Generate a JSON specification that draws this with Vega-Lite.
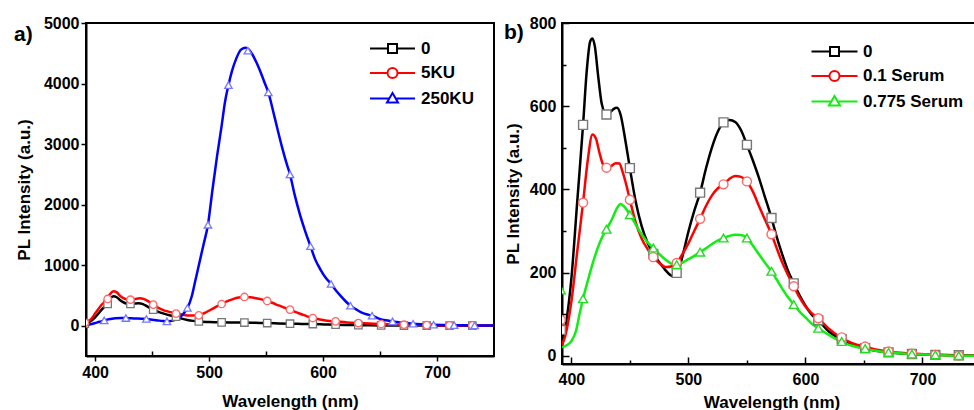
{
  "$schema": "https://vega.github.io/schema/vega-lite/v6.json",
  "background": "white",
  "padding": {"left": 13, "top": 14, "right": 0, "bottom": 0},
  "config": {
    "view": {"stroke": "black", "strokeWidth": 2},
    "concat": {"spacing": 8},
    "axis": {
      "grid": false, "domainColor": "black", "domainWidth": 2, "tickColor": "black", "tickWidth": 1.5,
      "labelFont": "Liberation Sans", "labelFontWeight": "bold", "labelFontSize": 16, "labelColor": "black",
      "titleFont": "Liberation Sans", "titleFontWeight": "bold", "titleFontSize": 17, "titleColor": "black",
      "format": "d", "labelFlush": false, "labelOverlap": false
    },
    "legend": {
      "labelFont": "Liberation Sans", "labelFontWeight": "bold", "labelFontSize": 17, "labelColor": "black",
      "symbolSize": 100, "symbolStrokeWidth": 2, "padding": 0, "rowPadding": 6.5, "labelOffset": 20
    }
  },
  "datasets": {
    "a_lines": [
      {"series":"0","wavelength":392,"intensity":40},{"series":"0","wavelength":396,"intensity":75},{"series":"0","wavelength":400,"intensity":140},{"series":"0","wavelength":405,"intensity":250},{"series":"0","wavelength":410,"intensity":355},{"series":"0","wavelength":413,"intensity":440},{"series":"0","wavelength":416,"intensity":485},{"series":"0","wavelength":419,"intensity":470},{"series":"0","wavelength":422,"intensity":420},{"series":"0","wavelength":426,"intensity":375},{"series":"0","wavelength":430,"intensity":360},{"series":"0","wavelength":434,"intensity":365},{"series":"0","wavelength":438,"intensity":372},{"series":"0","wavelength":442,"intensity":358},{"series":"0","wavelength":446,"intensity":315},{"series":"0","wavelength":451,"intensity":265},{"series":"0","wavelength":456,"intensity":225},{"series":"0","wavelength":461,"intensity":195},{"series":"0","wavelength":466,"intensity":170},{"series":"0","wavelength":471,"intensity":148},{"series":"0","wavelength":476,"intensity":118},{"series":"0","wavelength":481,"intensity":95},{"series":"0","wavelength":486,"intensity":80},{"series":"0","wavelength":491,"intensity":70},{"series":"0","wavelength":500,"intensity":62},{"series":"0","wavelength":511,"intensity":56},{"series":"0","wavelength":521,"intensity":54},{"series":"0","wavelength":531,"intensity":52},{"series":"0","wavelength":541,"intensity":48},{"series":"0","wavelength":551,"intensity":44},{"series":"0","wavelength":561,"intensity":38},{"series":"0","wavelength":571,"intensity":33},{"series":"0","wavelength":581,"intensity":30},{"series":"0","wavelength":591,"intensity":27},{"series":"0","wavelength":601,"intensity":22},{"series":"0","wavelength":611,"intensity":17},{"series":"0","wavelength":621,"intensity":13},{"series":"0","wavelength":631,"intensity":10},{"series":"0","wavelength":641,"intensity":7},{"series":"0","wavelength":651,"intensity":5},{"series":"0","wavelength":671,"intensity":3},{"series":"0","wavelength":691,"intensity":2},{"series":"0","wavelength":711,"intensity":1},{"series":"0","wavelength":731,"intensity":0},{"series":"0","wavelength":750,"intensity":0},
      {"series":"5KU","wavelength":392,"intensity":55},{"series":"5KU","wavelength":396,"intensity":100},{"series":"5KU","wavelength":400,"intensity":200},{"series":"5KU","wavelength":405,"intensity":330},{"series":"5KU","wavelength":410,"intensity":430},{"series":"5KU","wavelength":413,"intensity":520},{"series":"5KU","wavelength":416,"intensity":568},{"series":"5KU","wavelength":419,"intensity":550},{"series":"5KU","wavelength":422,"intensity":490},{"series":"5KU","wavelength":426,"intensity":445},{"series":"5KU","wavelength":431,"intensity":430},{"series":"5KU","wavelength":435,"intensity":440},{"series":"5KU","wavelength":439,"intensity":452},{"series":"5KU","wavelength":443,"intensity":440},{"series":"5KU","wavelength":447,"intensity":400},{"series":"5KU","wavelength":451,"intensity":348},{"series":"5KU","wavelength":456,"intensity":290},{"series":"5KU","wavelength":461,"intensity":250},{"series":"5KU","wavelength":466,"intensity":225},{"series":"5KU","wavelength":471,"intensity":205},{"series":"5KU","wavelength":476,"intensity":185},{"series":"5KU","wavelength":481,"intensity":170},{"series":"5KU","wavelength":486,"intensity":168},{"series":"5KU","wavelength":491,"intensity":175},{"series":"5KU","wavelength":496,"intensity":210},{"series":"5KU","wavelength":501,"intensity":260},{"series":"5KU","wavelength":506,"intensity":310},{"series":"5KU","wavelength":511,"intensity":359},{"series":"5KU","wavelength":516,"intensity":405},{"series":"5KU","wavelength":521,"intensity":440},{"series":"5KU","wavelength":526,"intensity":465},{"series":"5KU","wavelength":531,"intensity":475},{"series":"5KU","wavelength":536,"intensity":470},{"series":"5KU","wavelength":541,"intensity":455},{"series":"5KU","wavelength":546,"intensity":435},{"series":"5KU","wavelength":551,"intensity":409},{"series":"5KU","wavelength":556,"intensity":375},{"series":"5KU","wavelength":561,"intensity":335},{"series":"5KU","wavelength":566,"intensity":300},{"series":"5KU","wavelength":571,"intensity":265},{"series":"5KU","wavelength":576,"intensity":225},{"series":"5KU","wavelength":581,"intensity":190},{"series":"5KU","wavelength":586,"intensity":155},{"series":"5KU","wavelength":591,"intensity":127},{"series":"5KU","wavelength":596,"intensity":108},{"series":"5KU","wavelength":601,"intensity":92},{"series":"5KU","wavelength":606,"intensity":80},{"series":"5KU","wavelength":611,"intensity":72},{"series":"5KU","wavelength":621,"intensity":55},{"series":"5KU","wavelength":631,"intensity":44},{"series":"5KU","wavelength":641,"intensity":35},{"series":"5KU","wavelength":651,"intensity":28},{"series":"5KU","wavelength":661,"intensity":22},{"series":"5KU","wavelength":671,"intensity":17},{"series":"5KU","wavelength":691,"intensity":10},{"series":"5KU","wavelength":711,"intensity":5},{"series":"5KU","wavelength":731,"intensity":5},{"series":"5KU","wavelength":750,"intensity":3},
      {"series":"250KU","wavelength":392,"intensity":10},{"series":"250KU","wavelength":396,"intensity":25},{"series":"250KU","wavelength":400,"intensity":45},{"series":"250KU","wavelength":404,"intensity":65},{"series":"250KU","wavelength":408,"intensity":88},{"series":"250KU","wavelength":413,"intensity":110},{"series":"250KU","wavelength":418,"intensity":125},{"series":"250KU","wavelength":423,"intensity":128},{"series":"250KU","wavelength":427,"intensity":127},{"series":"250KU","wavelength":432,"intensity":122},{"series":"250KU","wavelength":437,"intensity":118},{"series":"250KU","wavelength":441,"intensity":115},{"series":"250KU","wavelength":445,"intensity":111},{"series":"250KU","wavelength":450,"intensity":100},{"series":"250KU","wavelength":455,"intensity":88},{"series":"250KU","wavelength":459,"intensity":78},{"series":"250KU","wavelength":463,"intensity":72},{"series":"250KU","wavelength":467,"intensity":80},{"series":"250KU","wavelength":471,"intensity":105},{"series":"250KU","wavelength":475,"intensity":150},{"series":"250KU","wavelength":478,"intensity":210},{"series":"250KU","wavelength":481,"intensity":293},{"series":"250KU","wavelength":485,"intensity":500},{"series":"250KU","wavelength":488,"intensity":750},{"series":"250KU","wavelength":491,"intensity":1000},{"series":"250KU","wavelength":495,"intensity":1330},{"series":"250KU","wavelength":499,"intensity":1667},{"series":"250KU","wavelength":503,"intensity":2250},{"series":"250KU","wavelength":507,"intensity":2800},{"series":"250KU","wavelength":511,"intensity":3300},{"series":"250KU","wavelength":514,"intensity":3700},{"series":"250KU","wavelength":517,"intensity":3974},{"series":"250KU","wavelength":520,"intensity":4200},{"series":"250KU","wavelength":524,"intensity":4420},{"series":"250KU","wavelength":528,"intensity":4560},{"series":"250KU","wavelength":532,"intensity":4590},{"series":"250KU","wavelength":535,"intensity":4560},{"series":"250KU","wavelength":538,"intensity":4480},{"series":"250KU","wavelength":542,"intensity":4330},{"series":"250KU","wavelength":546,"intensity":4150},{"series":"250KU","wavelength":549,"intensity":4000},{"series":"250KU","wavelength":552,"intensity":3853},{"series":"250KU","wavelength":556,"intensity":3560},{"series":"250KU","wavelength":560,"intensity":3250},{"series":"250KU","wavelength":564,"intensity":2950},{"series":"250KU","wavelength":568,"intensity":2680},{"series":"250KU","wavelength":571,"intensity":2500},{"series":"250KU","wavelength":575,"intensity":2170},{"series":"250KU","wavelength":580,"intensity":1820},{"series":"250KU","wavelength":584,"intensity":1580},{"series":"250KU","wavelength":589,"intensity":1313},{"series":"250KU","wavelength":593,"intensity":1100},{"series":"250KU","wavelength":598,"intensity":920},{"series":"250KU","wavelength":602,"intensity":800},{"series":"250KU","wavelength":607,"intensity":690},{"series":"250KU","wavelength":611,"intensity":590},{"series":"250KU","wavelength":616,"intensity":480},{"series":"250KU","wavelength":620,"intensity":400},{"series":"250KU","wavelength":624,"intensity":331},{"series":"250KU","wavelength":629,"intensity":270},{"series":"250KU","wavelength":633,"intensity":225},{"series":"250KU","wavelength":638,"intensity":190},{"series":"250KU","wavelength":643,"intensity":166},{"series":"250KU","wavelength":648,"intensity":125},{"series":"250KU","wavelength":652,"intensity":100},{"series":"250KU","wavelength":657,"intensity":85},{"series":"250KU","wavelength":661,"intensity":72},{"series":"250KU","wavelength":670,"intensity":50},{"series":"250KU","wavelength":679,"intensity":33},{"series":"250KU","wavelength":688,"intensity":24},{"series":"250KU","wavelength":697,"intensity":17},{"series":"250KU","wavelength":706,"intensity":13},{"series":"250KU","wavelength":715,"intensity":10},{"series":"250KU","wavelength":724,"intensity":7},{"series":"250KU","wavelength":733,"intensity":5},{"series":"250KU","wavelength":750,"intensity":4}
    ],
    "a_markers": [
      {"series":"0","wavelength":391,"intensity":35},{"series":"0","wavelength":411,"intensity":359},{"series":"0","wavelength":431,"intensity":359},{"series":"0","wavelength":451,"intensity":265},{"series":"0","wavelength":471,"intensity":150},{"series":"0","wavelength":491,"intensity":70},{"series":"0","wavelength":511,"intensity":55},{"series":"0","wavelength":531,"intensity":53},{"series":"0","wavelength":551,"intensity":44},{"series":"0","wavelength":571,"intensity":33},{"series":"0","wavelength":591,"intensity":28},{"series":"0","wavelength":611,"intensity":17},{"series":"0","wavelength":631,"intensity":10},{"series":"0","wavelength":651,"intensity":5},{"series":"0","wavelength":671,"intensity":3},{"series":"0","wavelength":691,"intensity":2},{"series":"0","wavelength":711,"intensity":1},{"series":"0","wavelength":731,"intensity":0},
      {"series":"5KU","wavelength":391,"intensity":50},{"series":"5KU","wavelength":411,"intensity":442},{"series":"5KU","wavelength":431,"intensity":430},{"series":"5KU","wavelength":451,"intensity":348},{"series":"5KU","wavelength":471,"intensity":199},{"series":"5KU","wavelength":491,"intensity":171},{"series":"5KU","wavelength":511,"intensity":359},{"series":"5KU","wavelength":531,"intensity":475},{"series":"5KU","wavelength":551,"intensity":409},{"series":"5KU","wavelength":571,"intensity":265},{"series":"5KU","wavelength":591,"intensity":127},{"series":"5KU","wavelength":611,"intensity":72},{"series":"5KU","wavelength":631,"intensity":44},{"series":"5KU","wavelength":651,"intensity":28},{"series":"5KU","wavelength":671,"intensity":17},{"series":"5KU","wavelength":691,"intensity":10},{"series":"5KU","wavelength":711,"intensity":5},{"series":"5KU","wavelength":731,"intensity":5},
      {"series":"250KU","wavelength":408,"intensity":88},{"series":"250KU","wavelength":427,"intensity":127},{"series":"250KU","wavelength":445,"intensity":111},{"series":"250KU","wavelength":463,"intensity":72},{"series":"250KU","wavelength":481,"intensity":293},{"series":"250KU","wavelength":499,"intensity":1667},{"series":"250KU","wavelength":517,"intensity":3974},{"series":"250KU","wavelength":534,"intensity":4542},{"series":"250KU","wavelength":552,"intensity":3853},{"series":"250KU","wavelength":571,"intensity":2500},{"series":"250KU","wavelength":589,"intensity":1313},{"series":"250KU","wavelength":607,"intensity":690},{"series":"250KU","wavelength":624,"intensity":331},{"series":"250KU","wavelength":643,"intensity":166},{"series":"250KU","wavelength":661,"intensity":72},{"series":"250KU","wavelength":679,"intensity":33},{"series":"250KU","wavelength":697,"intensity":17},{"series":"250KU","wavelength":715,"intensity":10},{"series":"250KU","wavelength":733,"intensity":5}
    ],
    "b_lines": [
      {"series":"0","wavelength":392,"intensity":28},{"series":"0","wavelength":395,"intensity":70},{"series":"0","wavelength":400,"intensity":185},{"series":"0","wavelength":405,"intensity":370},{"series":"0","wavelength":410,"intensity":555},{"series":"0","wavelength":413,"intensity":680},{"series":"0","wavelength":416,"intensity":755},{"series":"0","wavelength":418,"intensity":763},{"series":"0","wavelength":420,"intensity":745},{"series":"0","wavelength":423,"intensity":670},{"series":"0","wavelength":426,"intensity":605},{"series":"0","wavelength":430,"intensity":580},{"series":"0","wavelength":433,"intensity":585},{"series":"0","wavelength":436,"intensity":593},{"series":"0","wavelength":439,"intensity":596},{"series":"0","wavelength":442,"intensity":580},{"series":"0","wavelength":446,"intensity":520},{"series":"0","wavelength":450,"intensity":451},{"series":"0","wavelength":455,"intensity":370},{"series":"0","wavelength":460,"intensity":312},{"series":"0","wavelength":465,"intensity":272},{"series":"0","wavelength":470,"intensity":245},{"series":"0","wavelength":475,"intensity":225},{"series":"0","wavelength":480,"intensity":207},{"series":"0","wavelength":485,"intensity":193},{"series":"0","wavelength":488,"intensity":190},{"series":"0","wavelength":491,"intensity":199},{"series":"0","wavelength":495,"intensity":240},{"series":"0","wavelength":500,"intensity":298},{"series":"0","wavelength":505,"intensity":348},{"series":"0","wavelength":510,"intensity":392},{"series":"0","wavelength":515,"intensity":450},{"series":"0","wavelength":520,"intensity":500},{"series":"0","wavelength":525,"intensity":538},{"series":"0","wavelength":530,"intensity":561},{"series":"0","wavelength":535,"intensity":567},{"series":"0","wavelength":540,"intensity":562},{"series":"0","wavelength":545,"intensity":542},{"series":"0","wavelength":550,"intensity":507},{"series":"0","wavelength":555,"intensity":470},{"series":"0","wavelength":560,"intensity":430},{"series":"0","wavelength":565,"intensity":385},{"series":"0","wavelength":571,"intensity":331},{"series":"0","wavelength":575,"intensity":290},{"series":"0","wavelength":580,"intensity":245},{"series":"0","wavelength":585,"intensity":205},{"series":"0","wavelength":590,"intensity":174},{"series":"0","wavelength":595,"intensity":145},{"series":"0","wavelength":600,"intensity":120},{"series":"0","wavelength":605,"intensity":100},{"series":"0","wavelength":611,"intensity":85},{"series":"0","wavelength":620,"intensity":58},{"series":"0","wavelength":630,"intensity":40},{"series":"0","wavelength":640,"intensity":27},{"series":"0","wavelength":650,"intensity":18},{"series":"0","wavelength":660,"intensity":12},{"series":"0","wavelength":670,"intensity":8},{"series":"0","wavelength":690,"intensity":4},{"series":"0","wavelength":710,"intensity":2},{"series":"0","wavelength":730,"intensity":1},{"series":"0","wavelength":750,"intensity":0},
      {"series":"0.1 Serum","wavelength":392,"intensity":25},{"series":"0.1 Serum","wavelength":395,"intensity":50},{"series":"0.1 Serum","wavelength":400,"intensity":130},{"series":"0.1 Serum","wavelength":405,"intensity":250},{"series":"0.1 Serum","wavelength":410,"intensity":368},{"series":"0.1 Serum","wavelength":414,"intensity":470},{"series":"0.1 Serum","wavelength":418,"intensity":532},{"series":"0.1 Serum","wavelength":421,"intensity":522},{"series":"0.1 Serum","wavelength":424,"intensity":488},{"series":"0.1 Serum","wavelength":427,"intensity":460},{"series":"0.1 Serum","wavelength":430,"intensity":452},{"series":"0.1 Serum","wavelength":434,"intensity":456},{"series":"0.1 Serum","wavelength":438,"intensity":463},{"series":"0.1 Serum","wavelength":441,"intensity":462},{"series":"0.1 Serum","wavelength":444,"intensity":440},{"series":"0.1 Serum","wavelength":447,"intensity":410},{"series":"0.1 Serum","wavelength":450,"intensity":375},{"series":"0.1 Serum","wavelength":455,"intensity":320},{"series":"0.1 Serum","wavelength":460,"intensity":282},{"series":"0.1 Serum","wavelength":465,"intensity":257},{"series":"0.1 Serum","wavelength":470,"intensity":237},{"series":"0.1 Serum","wavelength":475,"intensity":223},{"series":"0.1 Serum","wavelength":481,"intensity":213},{"series":"0.1 Serum","wavelength":486,"intensity":215},{"series":"0.1 Serum","wavelength":490,"intensity":223},{"series":"0.1 Serum","wavelength":495,"intensity":245},{"series":"0.1 Serum","wavelength":500,"intensity":270},{"series":"0.1 Serum","wavelength":505,"intensity":300},{"series":"0.1 Serum","wavelength":510,"intensity":329},{"series":"0.1 Serum","wavelength":515,"intensity":360},{"series":"0.1 Serum","wavelength":520,"intensity":385},{"series":"0.1 Serum","wavelength":525,"intensity":402},{"series":"0.1 Serum","wavelength":530,"intensity":412},{"series":"0.1 Serum","wavelength":535,"intensity":425},{"series":"0.1 Serum","wavelength":540,"intensity":432},{"series":"0.1 Serum","wavelength":545,"intensity":430},{"series":"0.1 Serum","wavelength":550,"intensity":419},{"series":"0.1 Serum","wavelength":555,"intensity":395},{"series":"0.1 Serum","wavelength":560,"intensity":362},{"series":"0.1 Serum","wavelength":565,"intensity":330},{"series":"0.1 Serum","wavelength":571,"intensity":292},{"series":"0.1 Serum","wavelength":575,"intensity":262},{"series":"0.1 Serum","wavelength":580,"intensity":225},{"series":"0.1 Serum","wavelength":585,"intensity":195},{"series":"0.1 Serum","wavelength":590,"intensity":167},{"series":"0.1 Serum","wavelength":595,"intensity":140},{"series":"0.1 Serum","wavelength":600,"intensity":118},{"series":"0.1 Serum","wavelength":605,"intensity":103},{"series":"0.1 Serum","wavelength":611,"intensity":90},{"series":"0.1 Serum","wavelength":620,"intensity":65},{"series":"0.1 Serum","wavelength":630,"intensity":44},{"series":"0.1 Serum","wavelength":640,"intensity":30},{"series":"0.1 Serum","wavelength":650,"intensity":22},{"series":"0.1 Serum","wavelength":660,"intensity":15},{"series":"0.1 Serum","wavelength":670,"intensity":10},{"series":"0.1 Serum","wavelength":690,"intensity":5},{"series":"0.1 Serum","wavelength":710,"intensity":2},{"series":"0.1 Serum","wavelength":730,"intensity":0},{"series":"0.1 Serum","wavelength":750,"intensity":0},
      {"series":"0.775 Serum","wavelength":392,"intensity":20},{"series":"0.775 Serum","wavelength":396,"intensity":25},{"series":"0.775 Serum","wavelength":400,"intensity":35},{"series":"0.775 Serum","wavelength":404,"intensity":60},{"series":"0.775 Serum","wavelength":407,"intensity":100},{"series":"0.775 Serum","wavelength":410,"intensity":137},{"series":"0.775 Serum","wavelength":415,"intensity":190},{"series":"0.775 Serum","wavelength":420,"intensity":238},{"series":"0.775 Serum","wavelength":425,"intensity":277},{"series":"0.775 Serum","wavelength":430,"intensity":304},{"series":"0.775 Serum","wavelength":435,"intensity":330},{"series":"0.775 Serum","wavelength":439,"intensity":355},{"series":"0.775 Serum","wavelength":442,"intensity":365},{"series":"0.775 Serum","wavelength":446,"intensity":356},{"series":"0.775 Serum","wavelength":450,"intensity":339},{"series":"0.775 Serum","wavelength":455,"intensity":315},{"series":"0.775 Serum","wavelength":460,"intensity":292},{"series":"0.775 Serum","wavelength":465,"intensity":273},{"series":"0.775 Serum","wavelength":470,"intensity":259},{"series":"0.775 Serum","wavelength":475,"intensity":245},{"series":"0.775 Serum","wavelength":480,"intensity":232},{"series":"0.775 Serum","wavelength":485,"intensity":222},{"series":"0.775 Serum","wavelength":490,"intensity":218},{"series":"0.775 Serum","wavelength":495,"intensity":224},{"series":"0.775 Serum","wavelength":500,"intensity":232},{"series":"0.775 Serum","wavelength":505,"intensity":240},{"series":"0.775 Serum","wavelength":510,"intensity":249},{"series":"0.775 Serum","wavelength":515,"intensity":258},{"series":"0.775 Serum","wavelength":520,"intensity":268},{"series":"0.775 Serum","wavelength":525,"intensity":277},{"series":"0.775 Serum","wavelength":530,"intensity":283},{"series":"0.775 Serum","wavelength":535,"intensity":288},{"series":"0.775 Serum","wavelength":540,"intensity":291},{"series":"0.775 Serum","wavelength":545,"intensity":290},{"series":"0.775 Serum","wavelength":550,"intensity":283},{"series":"0.775 Serum","wavelength":555,"intensity":265},{"series":"0.775 Serum","wavelength":560,"intensity":245},{"series":"0.775 Serum","wavelength":565,"intensity":225},{"series":"0.775 Serum","wavelength":571,"intensity":203},{"series":"0.775 Serum","wavelength":575,"intensity":185},{"series":"0.775 Serum","wavelength":580,"intensity":162},{"series":"0.775 Serum","wavelength":585,"intensity":141},{"series":"0.775 Serum","wavelength":590,"intensity":123},{"series":"0.775 Serum","wavelength":595,"intensity":106},{"series":"0.775 Serum","wavelength":600,"intensity":92},{"series":"0.775 Serum","wavelength":605,"intensity":78},{"series":"0.775 Serum","wavelength":611,"intensity":66},{"series":"0.775 Serum","wavelength":620,"intensity":50},{"series":"0.775 Serum","wavelength":630,"intensity":34},{"series":"0.775 Serum","wavelength":640,"intensity":24},{"series":"0.775 Serum","wavelength":650,"intensity":17},{"series":"0.775 Serum","wavelength":660,"intensity":12},{"series":"0.775 Serum","wavelength":670,"intensity":8},{"series":"0.775 Serum","wavelength":690,"intensity":4},{"series":"0.775 Serum","wavelength":710,"intensity":2},{"series":"0.775 Serum","wavelength":730,"intensity":0},{"series":"0.775 Serum","wavelength":750,"intensity":0}
    ],
    "b_markers": [
      {"series":"0","wavelength":391,"intensity":62},{"series":"0","wavelength":410,"intensity":555},{"series":"0","wavelength":430,"intensity":580},{"series":"0","wavelength":450,"intensity":451},{"series":"0","wavelength":470,"intensity":245},{"series":"0","wavelength":490,"intensity":199},{"series":"0","wavelength":510,"intensity":392},{"series":"0","wavelength":530,"intensity":561},{"series":"0","wavelength":550,"intensity":507},{"series":"0","wavelength":571,"intensity":331},{"series":"0","wavelength":590,"intensity":174},{"series":"0","wavelength":611,"intensity":85},{"series":"0","wavelength":631,"intensity":40},{"series":"0","wavelength":651,"intensity":18},{"series":"0","wavelength":671,"intensity":8},{"series":"0","wavelength":691,"intensity":4},{"series":"0","wavelength":711,"intensity":2},{"series":"0","wavelength":731,"intensity":1},
      {"series":"0.1 Serum","wavelength":391,"intensity":86},{"series":"0.1 Serum","wavelength":410,"intensity":368},{"series":"0.1 Serum","wavelength":430,"intensity":452},{"series":"0.1 Serum","wavelength":450,"intensity":375},{"series":"0.1 Serum","wavelength":470,"intensity":237},{"series":"0.1 Serum","wavelength":490,"intensity":223},{"series":"0.1 Serum","wavelength":510,"intensity":329},{"series":"0.1 Serum","wavelength":530,"intensity":412},{"series":"0.1 Serum","wavelength":550,"intensity":419},{"series":"0.1 Serum","wavelength":571,"intensity":292},{"series":"0.1 Serum","wavelength":590,"intensity":167},{"series":"0.1 Serum","wavelength":611,"intensity":90},{"series":"0.1 Serum","wavelength":631,"intensity":44},{"series":"0.1 Serum","wavelength":651,"intensity":22},{"series":"0.1 Serum","wavelength":671,"intensity":10},{"series":"0.1 Serum","wavelength":691,"intensity":5},{"series":"0.1 Serum","wavelength":711,"intensity":2},{"series":"0.1 Serum","wavelength":731,"intensity":0},
      {"series":"0.775 Serum","wavelength":391,"intensity":158},{"series":"0.775 Serum","wavelength":410,"intensity":137},{"series":"0.775 Serum","wavelength":430,"intensity":304},{"series":"0.775 Serum","wavelength":450,"intensity":339},{"series":"0.775 Serum","wavelength":470,"intensity":259},{"series":"0.775 Serum","wavelength":490,"intensity":219},{"series":"0.775 Serum","wavelength":510,"intensity":249},{"series":"0.775 Serum","wavelength":530,"intensity":283},{"series":"0.775 Serum","wavelength":550,"intensity":283},{"series":"0.775 Serum","wavelength":571,"intensity":203},{"series":"0.775 Serum","wavelength":590,"intensity":123},{"series":"0.775 Serum","wavelength":611,"intensity":66},{"series":"0.775 Serum","wavelength":631,"intensity":34},{"series":"0.775 Serum","wavelength":651,"intensity":17},{"series":"0.775 Serum","wavelength":671,"intensity":8},{"series":"0.775 Serum","wavelength":691,"intensity":4},{"series":"0.775 Serum","wavelength":711,"intensity":2},{"series":"0.775 Serum","wavelength":731,"intensity":0}
    ]
  },
  "hconcat": [
    {
      "width": 408, "height": 333,
      "layer": [
        {
          "data": {"name": "a_lines"},
          "mark": {"type": "line", "strokeWidth": 2.5, "interpolate": "monotone", "clip": true},
          "encoding": {
            "x": {"field": "wavelength", "type": "quantitative", "scale": {"domain": [392, 750], "nice": false, "zero": false},
              "axis": {"title": "Wavelength (nm)", "values": [400, 450, 500, 550, 600, 650, 700], "labelExpr": "datum.value % 100 == 0 ? datum.label : ''", "tickSize": {"condition": {"test": "datum.value % 100 != 0", "value": -5}, "value": 5}, "labelPadding": 3, "titlePadding": 13}},
            "y": {"field": "intensity", "type": "quantitative", "scale": {"domain": [-500, 5000], "nice": false},
              "axis": {"title": "PL Intensity (a.u.)", "values": [0, 500, 1000, 1500, 2000, 2500, 3000, 3500, 4000, 4500, 5000], "labelExpr": "datum.value % 1000 == 0 ? datum.label : ''", "tickSize": {"condition": {"test": "datum.value % 1000 != 0", "value": -5}, "value": 5}, "labelPadding": 2, "titlePadding": 10}},
            "stroke": {"field": "series", "type": "nominal", "scale": {"domain": ["0", "5KU", "250KU"], "range": ["#000000", "#ff0000", "#0000ff"]}, "legend": null}
          }
        },
        {
          "data": {"name": "a_markers"},
          "mark": {"type": "point", "fill": "white", "fillOpacity": 1, "opacity": 1, "strokeWidth": 1.3, "size": 55, "clip": true},
          "encoding": {
            "x": {"field": "wavelength", "type": "quantitative"},
            "y": {"field": "intensity", "type": "quantitative"},
            "stroke": {"field": "series", "type": "nominal", "scale": {"domain": ["0", "5KU", "250KU"], "range": ["#777777", "#ff6666", "#7777ff"]}, "legend": null},
            "shape": {"field": "series", "type": "nominal", "scale": {"domain": ["0", "5KU", "250KU"], "range": ["square", "circle", "triangle-up"]}, "legend": null}
          }
        },
        {
          "data": {"name": "a_markers"},
          "transform": [{"filter": "false"}],
          "mark": {"type": "point", "fill": "white", "fillOpacity": 1, "opacity": 1, "strokeWidth": 2, "size": 100},
          "encoding": {
            "x": {"field": "wavelength", "type": "quantitative"},
            "y": {"field": "intensity", "type": "quantitative"},
            "stroke": {"field": "series", "type": "nominal", "scale": {"domain": ["0", "5KU", "250KU"], "range": ["#000000", "#ff0000", "#0000ff"]},
              "legend": {"orient": "none", "legendX": 298, "legendY": 17, "title": null}},
            "shape": {"field": "series", "type": "nominal", "scale": {"domain": ["0", "5KU", "250KU"], "range": [
              "M-4.5,0H-0.9M-0.9,-0.9H0.9V0.9H-0.9ZM0.9,0H4.5",
              "M-4.5,0H-1M1,0A1,1 0 1,1 -1,0A1,1 0 1,1 1,0M1,0H4.5",
              "M-4.5,0H-0.64M-1.1,0.8L0,-1.1L1.1,0.8ZM0.64,0H4.5"]},
              "legend": {"orient": "none", "legendX": 298, "legendY": 17, "title": null}}
          }
        },
        {
          "data": {"values": [{"label": "a)"}]},
          "mark": {"type": "text", "font": "Liberation Sans", "fontWeight": "bold", "fontSize": 21, "align": "left", "baseline": "middle", "dx": -72, "dy": 12, "color": "black"},
          "encoding": {"x": {"datum": 392}, "y": {"datum": 5000}, "text": {"field": "label"}}
        }
      ],
      "resolve": {"scale": {"stroke": "independent", "shape": "independent"}}
    },
    {
      "width": 419, "height": 341,
      "layer": [
        {
          "data": {"name": "b_lines"},
          "mark": {"type": "line", "strokeWidth": 2.5, "interpolate": "monotone", "clip": true},
          "encoding": {
            "x": {"field": "wavelength", "type": "quantitative", "scale": {"domain": [392, 750], "nice": false, "zero": false},
              "axis": {"title": "Wavelength (nm)", "values": [400, 450, 500, 550, 600, 650, 700], "labelExpr": "datum.value % 100 == 0 ? datum.label : ''", "tickSize": {"condition": {"test": "datum.value % 100 != 0", "value": -4}, "value": -7}, "labelPadding": 14, "titlePadding": 4}},
            "y": {"field": "intensity", "type": "quantitative", "scale": {"domain": [-20, 800], "nice": false},
              "axis": {"title": "PL Intensity (a.u.)", "values": [0, 100, 200, 300, 400, 500, 600, 700, 800], "labelExpr": "datum.value % 200 == 0 ? datum.label : ''", "tickSize": {"condition": {"test": "datum.value % 200 != 0", "value": -4}, "value": -7}, "labelPadding": 13, "titlePadding": 7}},
            "stroke": {"field": "series", "type": "nominal", "scale": {"domain": ["0", "0.1 Serum", "0.775 Serum"], "range": ["#000000", "#ff0000", "#11ee11"]}, "legend": null}
          }
        },
        {
          "data": {"name": "b_markers"},
          "mark": {"type": "point", "fill": "white", "fillOpacity": 1, "opacity": 1, "strokeWidth": 1.4, "size": 80, "clip": true},
          "encoding": {
            "x": {"field": "wavelength", "type": "quantitative"},
            "y": {"field": "intensity", "type": "quantitative"},
            "stroke": {"field": "series", "type": "nominal", "scale": {"domain": ["0", "0.1 Serum", "0.775 Serum"], "range": ["#777777", "#ff6666", "#22dd22"]}, "legend": null},
            "shape": {"field": "series", "type": "nominal", "scale": {"domain": ["0", "0.1 Serum", "0.775 Serum"], "range": ["square", "circle", "triangle-up"]}, "legend": null}
          }
        },
        {
          "data": {"name": "b_markers"},
          "transform": [{"filter": "false"}],
          "mark": {"type": "point", "fill": "white", "fillOpacity": 1, "opacity": 1, "strokeWidth": 2, "size": 100},
          "encoding": {
            "x": {"field": "wavelength", "type": "quantitative"},
            "y": {"field": "intensity", "type": "quantitative"},
            "stroke": {"field": "series", "type": "nominal", "scale": {"domain": ["0", "0.1 Serum", "0.775 Serum"], "range": ["#000000", "#ff0000", "#11ee11"]},
              "legend": {"orient": "none", "legendX": 264, "legendY": 20, "title": null}},
            "shape": {"field": "series", "type": "nominal", "scale": {"domain": ["0", "0.1 Serum", "0.775 Serum"], "range": [
              "M-4.6,0H-0.9M-0.9,-0.9H0.9V0.9H-0.9ZM0.9,0H4.6",
              "M-4.6,0H-1M1,0A1,1 0 1,1 -1,0A1,1 0 1,1 1,0M1,0H4.6",
              "M-4.6,0H-0.64M-1.1,0.8L0,-1.1L1.1,0.8ZM0.64,0H4.6"]},
              "legend": {"orient": "none", "legendX": 264, "legendY": 20, "title": null}}
          }
        },
        {
          "data": {"values": [{"label": "b)"}]},
          "mark": {"type": "text", "font": "Liberation Sans", "fontWeight": "bold", "fontSize": 21, "align": "left", "baseline": "middle", "dx": -58, "dy": 10, "color": "black"},
          "encoding": {"x": {"datum": 392}, "y": {"datum": 800}, "text": {"field": "label"}}
        }
      ],
      "resolve": {"scale": {"stroke": "independent", "shape": "independent"}}
    }
  ]
}
